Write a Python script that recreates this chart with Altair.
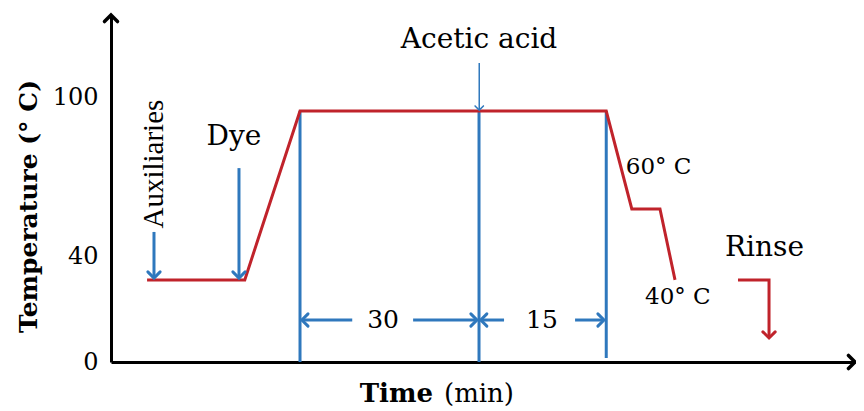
import altair as alt
import pandas as pd

# ---- data (schematic units) ----
# red temperature profile
profile_x = [4.8, 17.8, 25.15, 65.9, 69.3, 73.05, 75.05]
profile_y = [31.0, 31.0, 94.75, 94.75, 57.8, 57.8, 31.0]

# blue vertical step lines
step_x = [25.15, 48.97, 65.9]
step_top = [94.75, 94.75, 94.75]
step_bottom = [0.0, 0.0, 1.5]

# blue addition arrows (x, y_start, y_end)
add_x = [5.72, 17.03, 49.0]
add_y1 = [49.1, 73.2, 112.9]
add_y2 = [31.7, 31.7, 95.1]
add_w = [3.0, 3.0, 1.5]

# dimension arrows: (x1, x2) at level dim_y
dim_x1 = [25.4, 40.2, 49.2, 61.75]
dim_x2 = [32.1, 48.7, 52.3, 65.6]
dim_y = 15.85
dim_labels = ["30", "15"]
dim_label_x = [36.2, 57.35]

# rinse arrow
rinse_x = [83.43, 87.56, 87.56]
rinse_y = [31.0, 31.0, 9.06]

# text annotations
ann_text = ["Acetic acid", "Dye", "Rinse"]
ann_x = [48.97, 16.37, 81.7]
ann_y = [121.6, 84.9, 43.0]
ann_align = ["center", "center", "left"]

temp_text = ["60° C", "40° C"]
temp_x = [68.5, 71.06]
temp_y = [73.6, 24.5]

y_ticks = [0, 40, 100]

BLUE = "#2f78bd"
RED = "#c0232b"
SERIF = "DejaVu Serif"

X_DOM = [0, 99]
Y_DOM = [0, 131]

xs = alt.Scale(domain=X_DOM, nice=False, zero=False)
ys = alt.Scale(domain=Y_DOM, nice=False, zero=False)

# ---- base with axes ----
axes_df = pd.DataFrame({"x": [0], "y": [0]})
base = alt.Chart(axes_df).mark_point(opacity=0).encode(
    x=alt.X("x:Q", scale=xs, axis=alt.Axis(domain=True, domainColor="black", domainWidth=3,
                                         ticks=False, labels=False, grid=False, title=None)),
    y=alt.Y("y:Q", scale=ys, axis=alt.Axis(values=y_ticks, domain=True, domainColor="black",
                                         domainWidth=3, ticks=False, grid=False,
                                         labelFont=SERIF, labelFontSize=24, labelColor="black",
                                         labelPadding=13, labelFlush=False, labelOverlap=False,
                                         title="Temperature (° C)", titleFont=SERIF,
                                         titleFontSize=25, titleFontWeight="bold",
                                         titleColor="black", titleAngle=270,
                                         titleX=-83, titleY=191, titleAlign="center",
                                         titleBaseline="middle")),
)

# red profile
prof_df = pd.DataFrame({"x": profile_x, "y": profile_y, "o": list(range(len(profile_x)))})
profile = alt.Chart(prof_df).mark_line(color=RED, strokeWidth=3, strokeJoin="miter").encode(
    x=alt.X("x:Q", scale=xs), y=alt.Y("y:Q", scale=ys), order="o:Q")

# blue verticals
step_df = pd.DataFrame({"x": step_x, "y": step_bottom, "y2": step_top})
steps = alt.Chart(step_df).mark_rule(color=BLUE, strokeWidth=3).encode(
    x=alt.X("x:Q", scale=xs), y=alt.Y("y:Q", scale=ys), y2="y2:Q")

# addition arrows shafts
add_df = pd.DataFrame({"x": add_x, "y": add_y1, "y2": add_y2, "w": add_w})
adds = alt.Chart(add_df).mark_rule(color=BLUE).encode(
    x=alt.X("x:Q", scale=xs), y=alt.Y("y:Q", scale=ys), y2="y2:Q",
    strokeWidth=alt.StrokeWidth("w:Q", scale=None))

# dimension arrow shafts
dim_df = pd.DataFrame({"x": dim_x1, "x2": dim_x2, "y": [dim_y] * len(dim_x1)})
dims = alt.Chart(dim_df).mark_rule(color=BLUE, strokeWidth=3).encode(
    x=alt.X("x:Q", scale=xs), x2="x2:Q", y=alt.Y("y:Q", scale=ys))

# rinse arrow
rinse_df = pd.DataFrame({"x": rinse_x, "y": rinse_y, "o": [0, 1, 2]})
rinse = alt.Chart(rinse_df).mark_line(color=RED, strokeWidth=3, strokeJoin="miter").encode(
    x=alt.X("x:Q", scale=xs), y=alt.Y("y:Q", scale=ys), order="o:Q")

# arrowheads
CHEV = "M-1,-1L0,0L-1,1"
head_rows = [
    # x, y, angle, color, size, width
    (add_x[0], add_y2[0], 90, BLUE, 150, 3),
    (add_x[1], add_y2[1], 90, BLUE, 150, 3),
    (add_x[2], add_y2[2], 90, BLUE, 70, 1.5),
    (dim_x1[0], dim_y, 180, BLUE, 150, 3),
    (dim_x2[1], dim_y, 0, BLUE, 150, 3),
    (dim_x1[2], dim_y, 180, BLUE, 150, 3),
    (dim_x2[3], dim_y, 0, BLUE, 150, 3),
    (rinse_x[2], rinse_y[2], 90, RED, 150, 3),
    (0, Y_DOM[1], 270, "black", 170, 3.5),
    (X_DOM[1], 0, 0, "black", 170, 3.5),
]
head_df = pd.DataFrame(head_rows, columns=["x", "y", "a", "c", "s", "w"])
heads = alt.Chart(head_df).mark_point(shape=CHEV, filled=False, strokeCap="round",
                                      opacity=1).encode(
    x=alt.X("x:Q", scale=xs), y=alt.Y("y:Q", scale=ys),
    angle=alt.Angle("a:Q", scale=None),
    stroke=alt.Stroke("c:N", scale=None),
    size=alt.Size("s:Q", scale=None),
    strokeWidth=alt.StrokeWidth("w:Q", scale=None))

# annotations
ann_df = pd.DataFrame({"t": ann_text, "x": ann_x, "y": ann_y, "al": ann_align})
ann_c = alt.Chart(ann_df[ann_df.al == "center"]).mark_text(
    font=SERIF, fontSize=28, color="black", align="center", baseline="middle").encode(
    x=alt.X("x:Q", scale=xs), y=alt.Y("y:Q", scale=ys), text="t:N")
ann_l = alt.Chart(ann_df[ann_df.al == "left"]).mark_text(
    font=SERIF, fontSize=28, color="black", align="left", baseline="middle").encode(
    x=alt.X("x:Q", scale=xs), y=alt.Y("y:Q", scale=ys), text="t:N")

aux_df = pd.DataFrame({"t": ["Auxiliaries"], "x": [5.72], "y": [74.7]})
aux = alt.Chart(aux_df).mark_text(font="Liberation Serif", fontSize=29, color="black",
                                  align="center", baseline="middle", angle=270).encode(
    x=alt.X("x:Q", scale=xs), y=alt.Y("y:Q", scale=ys), text="t:N")

temp_df = pd.DataFrame({"t": temp_text, "x": temp_x, "y": temp_y})
temps = alt.Chart(temp_df).mark_text(font=SERIF, fontSize=23, color="black",
                                     align="left", baseline="middle").encode(
    x=alt.X("x:Q", scale=xs), y=alt.Y("y:Q", scale=ys), text="t:N")

dl_df = pd.DataFrame({"t": dim_labels, "x": dim_label_x, "y": [dim_y] * 2})
dlabels = alt.Chart(dl_df).mark_text(font=SERIF, fontSize=25, color="black",
                                     align="center", baseline="middle").encode(
    x=alt.X("x:Q", scale=xs), y=alt.Y("y:Q", scale=ys), text="t:N")

# x-axis title (bold "Time" + regular "(min)")
xt1 = alt.Chart(axes_df).mark_text(text="Time", font=SERIF, fontSize=26, fontWeight="bold",
                                   color="black", align="right", baseline="alphabetic").encode(
    x=alt.value(322), y=alt.value(387))
xt2 = alt.Chart(axes_df).mark_text(text="(min)", font=SERIF, fontSize=26, color="black",
                                   align="left", baseline="alphabetic").encode(
    x=alt.value(333), y=alt.value(387))

chart = alt.layer(base, steps, adds, dims, profile, rinse, heads, ann_c, ann_l, aux, temps,
                  dlabels, xt1, xt2).properties(
    width=744, height=347,
    autosize=alt.AutoSizeParams(type="none"),
    padding={"left": 103, "top": 7, "right": 1, "bottom": 49},
    background="white",
).configure_view(stroke=None)

chart.save("out.html", embed_options={"renderer": "svg", "actions": False})
